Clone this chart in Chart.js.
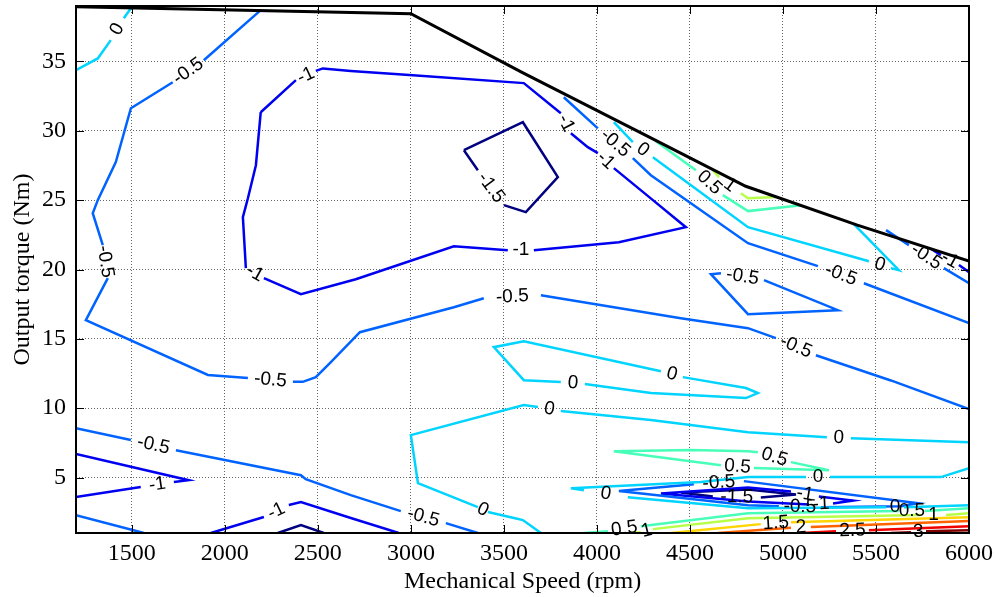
<!DOCTYPE html>
<html>
<head>
<meta charset="utf-8">
<script src="https://cdn.jsdelivr.net/npm/chart.js@4.4.1/dist/chart.umd.min.js"></script>
<style>
  html, body { margin: 0; padding: 0; background: #fff; }
  canvas { display: block; }
</style>
</head>
<body>
<canvas id="map" width="1000" height="597"></canvas>
<script>
// Axis ranges and ticks
const speedRange = [1200, 6000];
const torqueRange = [1, 39];
const speedTicks = [1500, 2000, 2500, 3000, 3500, 4000, 4500, 5000, 5500, 6000];
const torqueTicks = [5, 10, 15, 20, 25, 30, 35];

// Contour levels, coloured with the jet map from lowest to highest
const levels = [-1.5, -1, -0.5, 0, 0.5, 1, 1.5, 2, 2.5, 3];

// Maximum torque envelope
const envelopeSpeed = [1200, 3000, 3600, 4200, 4800, 5400, 6000];
const envelopeTorque = [38.95, 38.45, 34.2, 30.1, 26.0, 23.2, 20.6];

// Contour lines as [speed, torque] vertices; L marks where an inline label breaks the line
const L = null;
const c0TopLeft = [[1200, 34.37], [1317, 35.22], [1387, 36.54], L, [1457, 38.12], [1495, 38.84]];
const cm05Main = [[2193, 38.7], [1887, 35.09], L, [1720, 33.5], [1495, 31.63], [1414, 27.74], [1317, 25.0],
  [1290, 24.06], [1344, 21.76], L, [1371, 19.38], [1253, 16.35], [1909, 12.4], [2124, 12.17], L,
  [2366, 11.9], [2419, 11.9], [2489, 12.24], [2570, 13.32], [2726, 15.48], [3231, 17.28], [3392, 17.93], L,
  [3699, 18.15], [4451, 16.49], [4812, 15.77], [4962, 15.05], L, [5177, 13.82], [5580, 12.0], [6000, 9.93]];
const cm1Loop = [[2193, 31.34], [2382, 33.65], L, [2489, 34.32], [2527, 34.5], [2677, 34.32], [3011, 34.01],
  [3607, 33.44], [3806, 31.27], L, [3860, 29.83], [3951, 28.82], [4005, 28.39], L, [4091, 27.31], [4301, 25.0],
  [4478, 23.05], [4118, 21.97], [3661, 21.39], L, [3521, 21.39], [3231, 21.68], [2704, 19.3], [2409, 18.22],
  [2210, 19.38], L, [2113, 20.1], [2097, 23.78], [2124, 25.14], [2167, 27.52], [2193, 31.34]];
const cm15Loop = [[3285, 28.6], [3602, 30.62], [3790, 26.66], [3618, 24.14], [3500, 24.64], L, [3360, 27.16], [3285, 28.6]];
const cm05UpperRight = [[3822, 32.42], [4005, 30.18], L, [4193, 28.03], [4290, 26.8], [4812, 21.9], [5188, 20.24], L,
  [5435, 19.01], [6000, 16.13]];
const c0UpperRight = [[4091, 30.62], [4193, 29.18], L, [4301, 28.1], [4812, 23.05], [5462, 20.6], L, [5580, 20.1],
  [5623, 19.95], [5381, 23.27]];
const c05UpperRight = [[4317, 29.25], [4532, 27.16], L, [4677, 25.36], [4812, 24.21], [5097, 24.64]];
const c1UpperRight = [[4623, 27.16], [4656, 26.66], L, [4774, 25.5], [4812, 25.14], [4962, 25.22]];
const cm05Corner = [[5554, 22.84], [5677, 21.76], L, [5865, 20.1], [6000, 19.01]];
const cm1Corner = [[5795, 21.5], [5849, 21.04], L, [5946, 20.32], [6000, 19.81]];
const cm05Island = [[4667, 19.73], [4613, 19.66], [4812, 16.78], [5295, 17.07], [4898, 19.23], L, [4667, 19.73]];
const c0Island = [[3806, 11.88], [3607, 12.02], [3446, 14.4], [3607, 14.83], [4344, 12.67], L, [4462, 12.24],
  [4801, 11.45], [4865, 11.09], [4801, 10.73], [4290, 11.09], [3935, 11.74], L, [3806, 11.88]];
const c0Lower = [[6000, 7.55], [5365, 7.84], L, [5236, 7.91], [4812, 8.27], [4290, 9.14], [3806, 9.79], L,
  [3683, 10.08], [3607, 10.22], [3000, 8.06], [3038, 4.6], [3360, 2.87], L, [3414, 2.51], [3554, 2.08],
  [3602, 1.93], [3699, 1.0]];
const cm05BottomLeft = [[1200, 8.56], [1495, 7.7], L, [1737, 6.97], [2409, 5.17], [2435, 4.88], [2677, 3.73],
  [2946, 2.58], L, [3188, 1.71], [3360, 1.0]];
const cm1WedgeLeft = [[1200, 6.69], [1806, 4.81], [1726, 4.67], L, [1548, 4.31], [1200, 3.59]];
const cm05CornerLeft = [[1200, 2.29], [1565, 1.0]];
const cm1Bottom = [[1925, 1.0], [2210, 2.15], L, [2344, 3.02], [2409, 3.23], [2677, 2.08], [2935, 1.0]];
const cm15Bottom = [[2285, 1.0], [2409, 1.57], [2532, 1.0]];
const c05Loop = [[4091, 6.9], [4505, 6.98], [4812, 6.9], [4865, 6.83], L, [5043, 6.11], [5247, 5.53], [4844, 5.68], L,
  [4667, 5.89], [4091, 6.9]];
const c0Band = [[6000, 5.68], [5849, 5.03], [5253, 5.03], L, [5123, 5.03], [4812, 5.03], [4559, 4.67], [3860, 4.23],
  [3930, 4.09], L, [4166, 3.58], [4812, 2.79], [5554, 2.86], L, [5650, 2.86], [6000, 3.0]];
const cm05Wedge = [[4118, 4.02], [4521, 4.52], L, [4790, 4.74], [5726, 3.15], [5634, 2.93], [5204, 2.86], L,
  [4978, 2.93], [4812, 3.0], [4118, 4.02]];
const cm1Wedge = [[4344, 3.85], [4812, 4.28], [5043, 3.99], L, [5193, 3.63], [5376, 3.34], [5269, 3.13], L,
  [5140, 3.05], [4812, 3.27], [4344, 3.85]];
const cm15Wedge = [[4451, 3.92], [4812, 4.14], [5070, 3.78], [4881, 3.56], L, [4623, 3.63], [4451, 3.92]];
const c05Fan = [[3930, 1.0], [4059, 1.13], L, [4236, 1.49], [4812, 2.43], [5623, 2.58], L, [5763, 2.58], [6000, 2.79]];
const c1Fan = [[4183, 1.0], [4236, 1.06], L, [4301, 1.28], [4812, 2.07], [5742, 2.29], L, [5876, 2.29], [6000, 2.43]];
const c15Fan = [[4398, 1.0], [4881, 1.64], L, [5043, 1.78], [6000, 2.14]];
const c2Fan = [[4650, 1.0], [5043, 1.37], L, [5150, 1.44], [6000, 1.87]];
const c25Fan = [[5097, 1.0], [5285, 1.13], L, [5462, 1.2], [6000, 1.49]];
const c3Fan = [[5580, 1.0], [5688, 1.06], L, [5769, 1.13], [6000, 1.2]];

const contours = [
  [0, c0TopLeft], [-0.5, cm05Main], [-1, cm1Loop], [-1.5, cm15Loop],
  [-0.5, cm05UpperRight], [0, c0UpperRight], [0.5, c05UpperRight], [1, c1UpperRight],
  [-0.5, cm05Corner], [-1, cm1Corner], [-0.5, cm05Island], [0, c0Island], [0, c0Lower],
  [-0.5, cm05BottomLeft], [-1, cm1WedgeLeft], [-0.5, cm05CornerLeft], [-1, cm1Bottom], [-1.5, cm15Bottom],
  [0.5, c05Loop], [0, c0Band], [-0.5, cm05Wedge], [-1, cm1Wedge], [-1.5, cm15Wedge],
  [0.5, c05Fan], [1, c1Fan], [1.5, c15Fan], [2, c2Fan], [2.5, c25Fan], [3, c3Fan]
];

// Jet colour map
function jet(level) {
  const t = (level - levels[0]) / (levels[levels.length - 1] - levels[0]);
  const ch = c => Math.round(255 * Math.max(0, Math.min(1, 1.5 - Math.abs(4 * t - c))));
  return `rgb(${ch(3)},${ch(2)},${ch(1)})`;
}

const toPoints = pts => pts.map(p => p ? { x: p[0], y: p[1] } : { x: null, y: null });

const datasets = [{
  data: envelopeSpeed.map((s, i) => ({ x: s, y: envelopeTorque[i] })),
  showLine: true, borderColor: '#000', borderWidth: 3, pointRadius: 0, tension: 0
}];
contours.forEach(([level, pts]) => {
  datasets.push({
    data: toPoints(pts), level: level, raw: pts,
    showLine: true, spanGaps: false, borderColor: jet(level), borderWidth: 2.5,
    pointRadius: 0, tension: 0
  });
});

const serif = '"Liberation Serif", "Times New Roman", serif';

// Inline contour labels, written into the breaks of each line
const contourLabels = {
  id: 'contourLabels',
  afterDatasetsDraw(chart) {
    const { ctx, scales: { x, y } } = chart;
    ctx.save();
    ctx.font = '19px "Liberation Sans", Arial, sans-serif';
    ctx.fillStyle = '#000';
    ctx.textAlign = 'center';
    ctx.textBaseline = 'middle';
    chart.data.datasets.forEach(ds => {
      if (!ds.raw) return;
      ds.raw.forEach((p, i) => {
        if (p !== null) return;
        const a = ds.raw[i - 1], b = ds.raw[i + 1];
        const ax = x.getPixelForValue(a[0]), ay = y.getPixelForValue(a[1]);
        const bx = x.getPixelForValue(b[0]), by = y.getPixelForValue(b[1]);
        let ang = Math.atan2(by - ay, bx - ax);
        if (ang > Math.PI / 2) ang -= Math.PI;
        if (ang < -Math.PI / 2) ang += Math.PI;
        ctx.save();
        ctx.translate((ax + bx) / 2, (ay + by) / 2);
        ctx.rotate(ang);
        ctx.fillText(String(ds.level), 0, 0);
        ctx.restore();
      });
    });
    ctx.restore();
  }
};

// Boxed axes with inward tick marks on all four sides
const axesBox = {
  id: 'axesBox',
  afterDraw(chart) {
    const { ctx, chartArea: a, scales: { x, y } } = chart;
    ctx.save();
    ctx.strokeStyle = '#000';
    ctx.lineWidth = 1;
    ctx.beginPath();
    speedTicks.forEach(v => {
      const px = Math.round(x.getPixelForValue(v)) + 0.5;
      ctx.moveTo(px, a.bottom); ctx.lineTo(px, a.bottom - 8);
      ctx.moveTo(px, a.top); ctx.lineTo(px, a.top + 8);
    });
    torqueTicks.forEach(v => {
      const py = Math.round(y.getPixelForValue(v)) + 0.5;
      ctx.moveTo(a.left, py); ctx.lineTo(a.left + 8, py);
      ctx.moveTo(a.right, py); ctx.lineTo(a.right - 8, py);
    });
    ctx.stroke();
    ctx.lineWidth = 2;
    ctx.strokeRect(a.left, a.top, a.right - a.left, a.bottom - a.top);
    ctx.restore();
  }
};

new Chart(document.getElementById('map'), {
  type: 'scatter',
  data: { datasets },
  options: {
    responsive: false,
    animation: false,
    devicePixelRatio: 1,
    events: [],
    layout: { padding: { top: 6, right: 31, left: 0, bottom: 0 } },
    plugins: { legend: { display: false }, tooltip: { enabled: false } },
    scales: {
      x: {
        type: 'linear', min: speedRange[0], max: speedRange[1],
        afterBuildTicks: s => { s.ticks = speedTicks.map(v => ({ value: v })); },
        afterFit: s => { s.height = 64; s.paddingLeft = 0; s.paddingRight = 0; },
        grid: { color: '#666', lineWidth: 1, drawTicks: false },
        border: { display: false, dash: [1, 2] },
        ticks: { font: { family: serif, size: 24 }, color: '#000', padding: 6, maxRotation: 0, autoSkip: false,
          callback: v => String(v) },
        title: { display: true, text: 'Mechanical Speed (rpm)', color: '#000',
          font: { family: serif, size: 24 }, padding: { top: 0, bottom: 1 } }
      },
      y: {
        type: 'linear', min: torqueRange[0], max: torqueRange[1],
        afterBuildTicks: s => { s.ticks = torqueTicks.map(v => ({ value: v })); },
        afterFit: s => { s.width = 76; s.paddingTop = 0; s.paddingBottom = 0; },
        grid: { color: '#666', lineWidth: 1, drawTicks: false },
        border: { display: false, dash: [1, 2] },
        ticks: { font: { family: serif, size: 24 }, color: '#000', padding: 10, autoSkip: false,
          callback: v => String(v) },
        title: { display: true, text: 'Output torque (Nm)', color: '#000',
          font: { family: serif, size: 24 }, padding: { top: 8, bottom: 0 } }
      }
    }
  },
  plugins: [contourLabels, axesBox]
});
</script>
</body>
</html>
